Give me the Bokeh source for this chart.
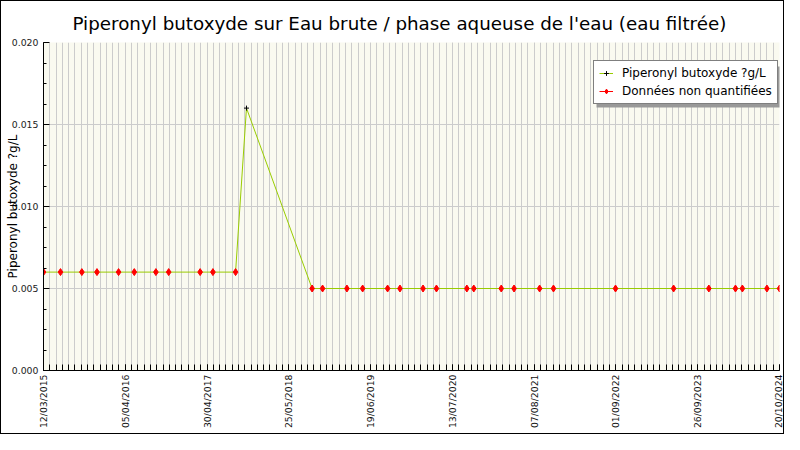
from datetime import datetime, timedelta
import math
from bokeh.plotting import figure
from bokeh.models import (FixedTicker, DatetimeTickFormatter, Range1d, Legend, LegendItem,
                          ColumnDataSource, CustomJSTickFormatter, BoxAnnotation)
from bokeh.embed import file_html
from bokeh.resources import INLINE

title = "Piperonyl butoxyde sur Eau brute / phase aqueuse de l'eau (eau filtrée)"
y_label = "Piperonyl butoxyde ?g/L"
series_name = "Piperonyl butoxyde ?g/L"
nq_name = "Données non quantifiées"

dates = ["2015-03-12", "2015-06-01", "2015-09-11", "2015-11-22", "2016-03-04", "2016-05-18",
         "2016-08-29", "2016-10-29", "2017-03-28", "2017-05-28", "2017-09-13", "2017-11-04",
         "2018-09-13", "2018-11-02", "2019-02-26", "2019-05-12", "2019-09-08", "2019-11-06",
         "2020-02-24", "2020-04-28", "2020-09-20", "2020-10-23", "2021-03-03", "2021-05-03",
         "2021-09-02", "2021-11-07", "2022-08-30", "2023-06-03", "2023-11-18", "2024-03-24",
         "2024-04-26", "2024-08-21", "2024-10-20"]
values = [0.006, 0.006, 0.006, 0.006, 0.006, 0.006, 0.006, 0.006, 0.006, 0.006, 0.006, 0.016,
          0.005, 0.005, 0.005, 0.005, 0.005, 0.005, 0.005, 0.005, 0.005, 0.005, 0.005, 0.005,
          0.005, 0.005, 0.005, 0.005, 0.005, 0.005, 0.005, 0.005, 0.005]
quantified = [False] * 11 + [True] + [False] * 21

x_tick_labels = ["12/03/2015", "05/04/2016", "30/04/2017", "25/05/2018", "19/06/2019",
                 "13/07/2020", "07/08/2021", "01/09/2022", "26/09/2023", "20/10/2024"]
minor_step_days = 30
y_ticks = [0.0, 0.005, 0.010, 0.015, 0.020]
y_minor_step = 0.00125

xs = [datetime.strptime(d, "%Y-%m-%d") for d in dates]
def ms(dt):
    return (dt - datetime(1970, 1, 1)).total_seconds() * 1000.0

major_dt = [datetime.strptime(t, "%d/%m/%Y") for t in x_tick_labels]
start, end = major_dt[0], major_dt[-1]
minor = []
d = start
while d <= end:
    minor.append(ms(d))
    d += timedelta(days=minor_step_days)

FRAME_H = 328
p = figure(width=784, height=434, x_axis_type="datetime", output_backend="svg",
           toolbar_location=None, min_border_left=42, min_border_right=6,
           min_border_top=41, min_border_bottom=65)
p.x_range = Range1d(ms(start), ms(end))
p.y_range = Range1d(0, 0.02)
p.background_fill_color = "#fafaf0"
p.border_fill_color = "white"
p.outline_line_color = None
p.styles = {"border": "1px solid black", "box-sizing": "border-box"}

p.xaxis.ticker = FixedTicker(ticks=[ms(t) for t in major_dt], minor_ticks=minor)
fmt = "%d/%m/%Y"
p.xaxis.formatter = DatetimeTickFormatter(
    days=fmt, months=fmt, years=fmt, hours=fmt, minutes=fmt, seconds=fmt,
    milliseconds=fmt, minsec=fmt, hourmin=fmt)
p.xaxis.major_label_orientation = math.pi / 2
p.xaxis.major_label_text_font = "DejaVu Sans"
p.xaxis.major_label_text_font_size = "9.3px"
p.xaxis.major_label_text_color = "#111111"
p.xaxis.major_tick_in = 6
p.xaxis.major_tick_out = 0
p.xaxis.minor_tick_in = 6
p.xaxis.minor_tick_out = 0
p.xaxis.axis_line_color = "black"
p.xaxis.major_label_standoff = 4

yminor = [i * y_minor_step for i in range(17)]
p.yaxis.ticker = FixedTicker(ticks=y_ticks, minor_ticks=yminor)
p.yaxis.formatter = CustomJSTickFormatter(code="return tick.toFixed(3);")
p.yaxis.major_label_text_font = "DejaVu Sans"
p.yaxis.major_label_text_font_size = "7pt"
p.yaxis.major_label_text_color = "#222222"
p.yaxis.major_tick_in = 6
p.yaxis.major_tick_out = 0
p.yaxis.minor_tick_in = 3
p.yaxis.minor_tick_out = 0
p.yaxis.major_label_standoff = 5
p.yaxis.axis_label = y_label
p.yaxis.axis_label_text_font = "DejaVu Sans"
p.yaxis.axis_label_text_font_size = "12px"
p.yaxis.axis_label_text_font_style = "normal"
p.yaxis.axis_label_text_color = "black"
p.yaxis.axis_label_standoff = -11

p.xgrid.grid_line_color = "#cccccc"
p.xgrid.minor_grid_line_color = "#cccccc"
p.ygrid.grid_line_color = "#cccccc"

p.title.text = title
p.title.text_font = "DejaVu Sans"
p.title.text_font_size = "18.3px"
p.title.text_font_style = "normal"
p.title.text_color = "black"
p.title.align = "left"
p.title.offset = 29
p.title.standoff = 17

src = ColumnDataSource(dict(x=xs, y=values))
line = p.line("x", "y", source=src, line_color="#99cc00", line_width=1)

qx = [x for x, q in zip(xs, quantified) if q]
qy = [v for v, q in zip(values, quantified) if q]
nx = [x for x, q in zip(xs, quantified) if not q]
ny = [v for v, q in zip(values, quantified) if not q]
qm = p.scatter(qx, qy, marker="cross", size=5, line_color="black", line_width=1)
nm = p.scatter(nx, ny, marker="diamond", size=7, fill_color="red", line_color="red")

leg_line = p.line([xs[0], xs[0]], [values[0], values[0]], line_color="red", line_width=1)

LEG_X, LEG_Y = 550, FRAME_H - 20 - 42
LEG_W, LEG_H = 184, 41

p.add_layout(BoxAnnotation(left=LEG_X + 3, right=LEG_X + 3 + LEG_W,
                           bottom=LEG_Y - 3, top=LEG_Y - 3 + LEG_H,
                           left_units="screen", right_units="screen",
                           top_units="screen", bottom_units="screen",
                           fill_color="#999999", fill_alpha=1, line_color=None,
                           level="annotation"))

legend = Legend(items=[LegendItem(label=series_name, renderers=[line, qm]),
                       LegendItem(label=nq_name, renderers=[leg_line, nm])],
                location=(LEG_X, LEG_Y))
legend.label_text_font = "DejaVu Sans"
legend.label_text_font_size = "12px"
legend.glyph_width = 14
legend.glyph_height = 12
legend.label_height = 12
legend.spacing = 4
legend.padding = 5
legend.margin = 0
legend.label_standoff = 9
legend.border_line_color = "black"
legend.border_line_width = 1
legend.background_fill_color = "white"
legend.background_fill_alpha = 1
legend.label_text_color = "black"
p.add_layout(legend)

open("out.html", "w").write(file_html(p, INLINE))
